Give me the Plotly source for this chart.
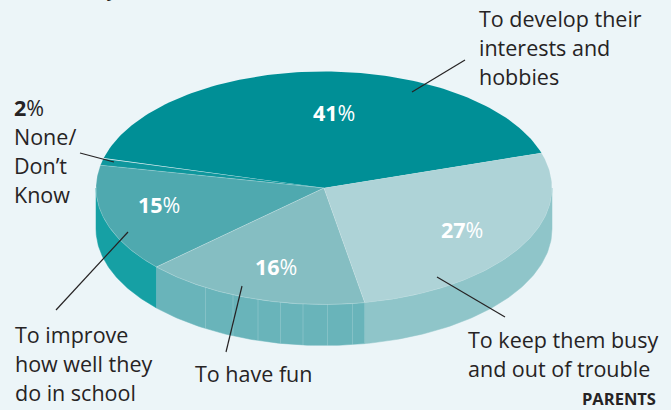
"""
Tilted 3D style pie: why parents want their children in after-school activities.
"""

import numpy as np
import plotly.graph_objects as go

# slices, counter-clockwise from the right edge of the 41% slice
# the "None/Don't Know" wedge is drawn thinner than its 2% label, about 1 part in 100
shares = [41, 1, 15, 16, 27]
top_colors = ["#008f96", "#0f979d", "#4fa9af", "#85bec2", "#aed3d7"]
wall_colors = ["#008f96", "#16a0a4", "#16a0a4", "#69b4ba", "#8fc5c9"]
seam_alpha = [0.0, 0.1, 0.35, 0.35, 0.2]
share_labels = ["41", "15", "16", "27"]

BG = "#ecf5f8"
INK = "#262324"
FONT = "'Open Sans', 'Noto Sans', sans-serif"

# pie geometry in picture pixels
CX, CY, RX, RY = 324, 188, 228, 116.5
DEPTH = 41
START_DEG = 17.5


def rim(deg, drop=0):
    t = np.radians(deg)
    return CX + RX * np.cos(t), CY - RY * np.sin(t) + drop


fig = go.Figure()

edges = START_DEG + np.concatenate([[0], np.cumsum(shares)]) * 360 / sum(shares)

# walls first, only the front half of the rim can be seen
for a, b, col in zip(edges[:-1], edges[1:], wall_colors):
    lo, hi = max(a, 180), min(b, 360)
    if hi <= lo:
        continue
    t = np.linspace(lo, hi, 80)
    xt, yt = rim(t)
    xb, yb = rim(t[::-1], DEPTH)
    fig.add_trace(go.Scatter(
        x=np.r_[xt, xb, xt[0]], y=np.r_[yt, yb, yt[0]],
        mode="lines", fill="toself", fillcolor=col,
        line=dict(color=col, width=0.5), hoverinfo="skip", showlegend=False,
    ))

# faint seams in the wall of the 16% slice
for sx in [205.5, 233, 258, 280.5, 303, 327.5, 352.5]:
    t = 360 - np.degrees(np.arccos((sx - CX) / RX))
    _, y0 = rim(t)
    fig.add_trace(go.Scatter(
        x=[sx, sx], y=[y0, y0 + DEPTH], mode="lines",
        line=dict(color="rgba(255,255,255,0.18)", width=1),
        hoverinfo="skip", showlegend=False,
    ))

# top face
for a, b, col, alpha in zip(edges[:-1], edges[1:], top_colors, seam_alpha):
    t = np.linspace(a, b, 120)
    xt, yt = rim(t)
    fig.add_trace(go.Scatter(
        x=np.r_[CX, xt, CX], y=np.r_[CY, yt, CY],
        mode="lines", fill="toself", fillcolor=col,
        line=dict(color=f"rgba(255,255,255,{alpha})", width=0.6),
        hoverinfo="skip", showlegend=False,
    ))

# leader lines
leaders = [
    ([465, 412], [60, 92]),
    ([80, 114], [153, 162]),
    ([56, 128], [310, 232]),
    ([226, 242], [352, 286]),
    ([505, 437], [317, 277]),
]
for lx, ly in leaders:
    fig.add_trace(go.Scatter(
        x=lx, y=ly, mode="lines", line=dict(color=INK, width=1.2),
        hoverinfo="skip", showlegend=False,
    ))

annotations = []


def put(x, y, text, size=21.5, color=INK, anchor="left"):
    annotations.append(dict(
        x=x, y=y, xref="x", yref="y", text=text, showarrow=False,
        xanchor=anchor, yanchor="middle",
        font=dict(family=FONT, size=size, color=color),
    ))


for x, y, s in zip([334, 159, 276, 462], [112, 204, 266, 229], share_labels):
    put(x, y, f"<b>{s}</b>%", color="white", anchor="center")

labels = [
    (477, 18.5, ["To develop their", "interests and", "hobbies"]),
    (12, 107.5, ["<b>2</b>%", "None/", "Don’t", "Know"]),
    (13, 334.5, ["To improve", "how well they", "do in school"]),
    (193, 373.5, ["To have fun"]),
    (466, 339.5, ["To keep them busy", "and out of trouble"]),
]
for x, y, lines in labels:
    for i, line in enumerate(lines):
        put(x, y + i * 29, line)

put(658, 398.5, "<b>PARENTS</b>", size=16.5, anchor="right")

# tail of the cropped headline above the chart
annotations.append(dict(
    x=112 / 671, y=1 - 4 / 410, xref="paper", yref="paper", text="y",
    showarrow=False, xanchor="center", yanchor="bottom",
    font=dict(family=FONT, size=20, color=INK),
))

fig.update_layout(
    width=671, height=410,
    margin=dict(l=0, r=0, t=0, b=0),
    paper_bgcolor=BG, plot_bgcolor=BG,
    xaxis=dict(range=[0, 671], visible=False, fixedrange=True),
    yaxis=dict(range=[410, 0], visible=False, fixedrange=True),
    annotations=annotations,
    showlegend=False,
)

# the page's default body margin would shift the whole picture
fig.write_html(
    "out.html",
    config=dict(displayModeBar=False),
    post_script="document.body.style.margin='0';document.body.style.background='#ecf5f8';",
)
